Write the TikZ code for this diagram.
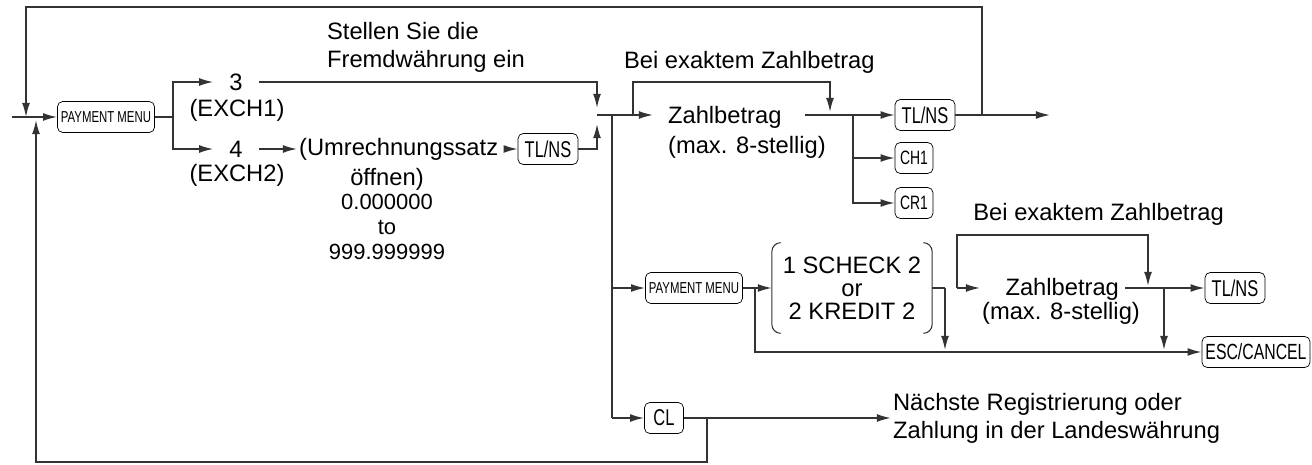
\documentclass[tikz,border=0pt]{standalone}
\usepackage{fontspec}
\setmainfont{Liberation Sans}
\newfontfamily\keyfont[FakeStretch=0.72]{Liberation Sans}
\usepackage{tikz}
\usetikzlibrary{arrows.meta}
\begin{document}
\begin{tikzpicture}[x=0.02cm,y=-0.02cm,
    key/.style={draw,rounded corners=3pt,inner sep=2pt,minimum height=0.62cm,font=\keyfont\fontsize{13}{14}\selectfont},
    smallkey/.style={key,font=\keyfont\fontsize{9}{10}\selectfont},
    txt/.style={font=\fontsize{13.5}{16}\selectfont,inner sep=1pt},
    line/.style={line width=0.9pt,draw=black!80},
    arr/.style={line,-{Latex[length=8pt,width=4.5pt]}}]
  \useasboundingbox (0,0) rectangle (1312,465);
  % keys and texts
  \node[smallkey,minimum width=1.86cm] (pm1) at (106,117) {PAYMENT MENU};
  \node[txt] (n3) at (236,82) {3};
  \node[txt] (ex1) at (237,110) {(EXCH1)};
  \node[txt] (n4) at (236,149) {4};
  \node[txt] (ex2) at (237,175) {(EXCH2)};
  \node[txt,anchor=west] (ums) at (297,149) {(Umrechnungssatz};
  \node[txt,align=center,anchor=north] (rate) at (387,166) {öffnen)\\[-2pt]{\fontsize{12.5}{15}\selectfont 0.000000}\\[-2pt]{\fontsize{12.5}{15}\selectfont to}\\[-2pt]{\fontsize{12.5}{15}\selectfont 999.999999}};
  \node[key,minimum width=1.2cm] (tl1) at (548,149) {TL/NS};
  \node[txt,align=left,anchor=west] (stel) at (325,47) {Stellen Sie die\\Fremdwährung ein};
  \node[txt,anchor=west] (bei1) at (622,62) {Bei exaktem Zahlbetrag};
  \node[txt,anchor=north west] (zb1) at (666,104) {Zahlbetrag};
  \node[txt,anchor=north west] (mx1) at (666,134) {(max. 8-stellig)};
  \node[key,minimum width=1.2cm] (tl2) at (925,115) {TL/NS};
  \node[key,minimum width=0.76cm,font=\keyfont\fontsize{11}{12}\selectfont] (ch1) at (914,158) {CH1};
  \node[key,minimum width=0.76cm,font=\keyfont\fontsize{11}{12}\selectfont] (cr1) at (914,203) {CR1};
  \node[smallkey,minimum width=1.9cm] (pm2) at (694,288) {PAYMENT MENU};
  \node[txt,align=center,minimum width=2.82cm,minimum height=1.8cm] (sch) at (852,288) {1 SCHECK 2\\[-3pt]or\\[-3pt]2 KREDIT 2};
  \node[txt,anchor=east] (bei2) at (1226,214) {Bei exaktem Zahlbetrag};
  \node[txt,anchor=north east] (zb2) at (1121,276) {Zahlbetrag};
  \node[txt,anchor=north] (mx2) at (1061,300) {(max. 8-stellig)};
  \node[key,minimum width=1.2cm] (tl3) at (1235,288) {TL/NS};
  \node[key,minimum width=2.04cm,font=\keyfont\fontsize{12.5}{13}\selectfont] (esc) at (1256,352) {ESC/CANCEL};
  \node[key,minimum width=0.78cm] (cl) at (664,418) {CL};
  \node[txt,align=left,anchor=west] (next) at (891,418) {Nächste Registrierung oder\\Zahlung in der Landeswährung};
  % brackets
  \draw[line,line width=0.6pt,rounded corners=5pt] (sch.north west) -- ([xshift=-5]sch.north west) -- ([xshift=-5]sch.south west) -- (sch.south west);
  \draw[line,line width=0.6pt,rounded corners=5pt] (sch.north east) -- ([xshift=5]sch.north east) -- ([xshift=5]sch.south east) -- (sch.south east);
  % junctions
  \coordinate (in) at (26,117);
  \coordinate (b1) at (173,117);
  \coordinate (j1) at (597,115);
  \coordinate (j2) at (612,115);
  \coordinate (b2) at (853,115);
  \coordinate (out) at (982,115);
  \coordinate (end1) at (1050,115);
  \coordinate (j3) at (945,288);
  \coordinate (b3) at (1164,288);
  \coordinate (loop) at (707,418);
  % top loop
  \draw[line] (12,117) -- (in);
  \draw[arr] (out) |- (26,7) -- (in);
  \draw[arr] (in) -- (pm1.west);
  \draw[line] (tl2.east) -- (out);
  \draw[arr] (out) -- (end1);
  % left branch
  \draw[line] (pm1.east) -- (b1);
  \draw[arr] (b1) |- ([xshift=-8]n3.west);
  \draw[arr] (b1) |- ([xshift=-8]n4.west);
  \draw[arr] ([xshift=8]n3.east) -| (597,108);
  \draw[arr] ([xshift=8]n4.east) -- (ums.west);
  \draw[arr] ([xshift=4]ums.east) -- (tl1.west);
  \draw[arr] (tl1.east) -| (597,124);
  \draw[arr] (j1) -- (653,115);
  % bypass upper
  \draw[arr] (633,115) |- (830,82) -- (830,112);
  \draw[line] (805,115) -- (b2);
  \draw[arr] (b2) -- (tl2.west);
  \draw[arr] (b2) |- (ch1.west);
  \draw[arr] (b2) |- (cr1.west);
  % lower branch
  \draw[line] (j2) -- (612,418);
  \draw[arr] (612,288) -- (pm2.west);
  \draw[arr] (612,418) -- (cl.west);
  \draw[arr] (pm2.east) -- ([xshift=-5]sch.west);
  \draw[arr] (755,288) |- (esc.west);
  \draw[line] ([xshift=5]sch.east) -- (j3);
  \draw[arr] (j3) -- (945,350);
  \draw[arr] (957,288) -- (980,288);
  \draw[arr] (957,288) |- (1148,235) -- (1148,286);
  \draw[line] (1125,288) -- (b3);
  \draw[arr] (b3) -- (tl3.west);
  \draw[arr] (b3) -- (1164,350);
  % CL
  \draw[arr] (cl.east) -- (next.west);
  \draw[arr] (loop) |- (36,462) -- (36,120);
\end{tikzpicture}
\end{document}
